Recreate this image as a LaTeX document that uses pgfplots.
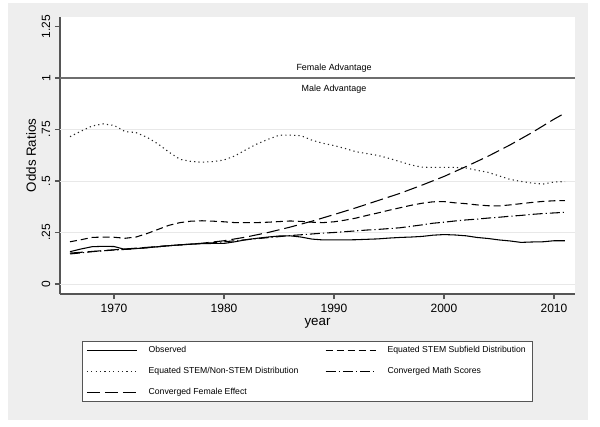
\documentclass[border=0pt]{standalone}
\usepackage{pgfplots}
\pgfplotsset{compat=1.18}
\usepackage{fontspec}
\setmainfont{Liberation Sans}
\definecolor{bggray}{RGB}{238,238,238}
\definecolor{axgray}{RGB}{85,85,85}
\definecolor{gridgray}{RGB}{232,232,232}
\definecolor{refgray}{RGB}{110,110,110}

% Odds ratios by year
\pgfplotstableread{
year val
1966 0.157
1967 0.170
1968 0.181
1969 0.183
1970 0.182
1971 0.168
1972 0.172
1973 0.176
1974 0.181
1975 0.186
1976 0.190
1977 0.193
1978 0.196
1979 0.197
1980 0.197
1981 0.205
1982 0.215
1983 0.222
1984 0.228
1985 0.233
1986 0.234
1987 0.228
1988 0.218
1989 0.214
1990 0.214
1991 0.214
1992 0.215
1993 0.217
1994 0.219
1995 0.223
1996 0.226
1997 0.228
1998 0.231
1999 0.237
2000 0.240
2001 0.238
2002 0.234
2003 0.226
2004 0.221
2005 0.214
2006 0.209
2007 0.202
2008 0.204
2009 0.205
2010 0.210
2011 0.210
}\observed

\pgfplotstableread{
year val
1966 0.205
1967 0.215
1968 0.226
1969 0.228
1970 0.227
1971 0.222
1972 0.228
1973 0.245
1974 0.265
1975 0.285
1976 0.298
1977 0.305
1978 0.307
1979 0.305
1980 0.302
1981 0.298
1982 0.298
1983 0.298
1984 0.300
1985 0.303
1986 0.306
1987 0.304
1988 0.300
1989 0.298
1990 0.302
1991 0.310
1992 0.320
1993 0.333
1994 0.345
1995 0.358
1996 0.370
1997 0.382
1998 0.392
1999 0.399
2000 0.400
2001 0.394
2002 0.390
2003 0.384
2004 0.380
2005 0.379
2006 0.384
2007 0.390
2008 0.396
2009 0.401
2010 0.404
2011 0.405
}\subfield

\pgfplotstableread{
year val
1966 0.715
1967 0.742
1968 0.767
1969 0.777
1970 0.770
1971 0.740
1972 0.735
1973 0.712
1974 0.680
1975 0.640
1976 0.605
1977 0.595
1978 0.591
1979 0.594
1980 0.602
1981 0.622
1982 0.652
1983 0.680
1984 0.702
1985 0.722
1986 0.723
1987 0.720
1988 0.698
1989 0.683
1990 0.672
1991 0.658
1992 0.642
1993 0.633
1994 0.624
1995 0.610
1996 0.594
1997 0.578
1998 0.567
1999 0.566
2000 0.566
2001 0.566
2002 0.563
2003 0.552
2004 0.542
2005 0.525
2006 0.508
2007 0.498
2008 0.490
2009 0.485
2010 0.495
2011 0.497
}\stemnon

\pgfplotstableread{
year val
1966 0.146
1967 0.151
1968 0.157
1969 0.161
1970 0.165
1971 0.168
1972 0.172
1973 0.176
1974 0.181
1975 0.186
1976 0.190
1977 0.194
1978 0.197
1979 0.200
1980 0.205
1981 0.210
1982 0.215
1983 0.220
1984 0.225
1985 0.230
1986 0.235
1987 0.239
1988 0.243
1989 0.247
1990 0.250
1991 0.254
1992 0.258
1993 0.262
1994 0.265
1995 0.269
1996 0.273
1997 0.280
1998 0.287
1999 0.295
2000 0.300
2001 0.306
2002 0.311
2003 0.315
2004 0.320
2005 0.324
2006 0.329
2007 0.333
2008 0.338
2009 0.342
2010 0.345
2011 0.348
}\math

\pgfplotstableread{
year val
1966 0.150
1968 0.158
1970 0.166
1972 0.174
1974 0.182
1976 0.190
1978 0.198
1980 0.210
1982 0.228
1984 0.250
1986 0.276
1988 0.305
1990 0.337
1992 0.370
1994 0.405
1996 0.440
1998 0.480
2000 0.522
2002 0.570
2004 0.620
2006 0.675
2008 0.735
2010 0.800
2011 0.830
}\female

\begin{document}
\begin{tikzpicture}
\useasboundingbox (0,0) rectangle (450pt,319.5pt);
\fill[white] (0,0) rectangle (450pt,319.5pt);
\fill[bggray] (6pt,4.5pt) rectangle (441pt,317.25pt);
\begin{axis}[
    at={(45pt,99pt)}, anchor=south west,
    scale only axis,
    width=386.25pt, height=207.75pt,
    xmin=1965.09, xmax=2011.91,
    ymin=-0.0485, ymax=1.296,
    axis background/.style={fill=white},
    axis x line*=bottom, axis y line*=left,
    axis line style={axgray, line width=0.8pt, -},
    tick align=outside,
    major tick length=3.75pt,
    tick style={axgray, line width=0.8pt},
    xtick={1970,1980,1990,2000,2010},
    xticklabels={1970,1980,1990,2000,2010},
    ytick={0,0.25,0.5,0.75,1,1.25},
    yticklabels={0,.25,.5,.75,1,1.25},
    yticklabel style={rotate=90, anchor=south},
    ticklabel style={font=\fontsize{9}{10}\selectfont},
    /pgf/number format/assume math mode=true,
    xlabel={year},
    ylabel={Odds Ratios},
    label style={font=\fontsize{10}{11}\selectfont},
    xlabel style={yshift=2pt},
    ylabel shift=-2.5pt,
    legend columns=2,
    legend cell align=left,
    legend image code/.code={\draw[#1] (0pt,0pt) -- (38pt,0pt);},
    legend style={
        at={(axis description cs:0.0427,-0.168)}, anchor=north west,
        draw=axgray, fill=white,
        font=\fontsize{6.5}{7.5}\selectfont,
        row sep=5.5pt,
        /tikz/every odd column/.append style={column sep=6pt},
        /tikz/every even column/.append style={column sep=18pt},
    },
]
% grid and reference line
\foreach \v in {0,0.25,0.5,0.75} {
  \edef\temp{\noexpand\draw[gridgray, line width=0.6pt] (axis cs:1965.09,\v) -- (axis cs:2011.91,\v);}
  \temp
}
\draw[refgray, line width=1.1pt] (axis cs:1965.09,1) -- (axis cs:2011.91,1);
\node[font=\fontsize{6.7}{7.5}\selectfont] at (axis cs:1990,1.047) {Female Advantage};
\node[font=\fontsize{6.7}{7.5}\selectfont] at (axis cs:1990,0.945) {Male Advantage};

\addplot[black, line width=0.8pt] table[x=year, y=val] {\observed};
\addplot[black, line width=0.8pt, dash pattern=on 5.25pt off 3pt] table[x=year, y=val] {\subfield};
\addplot[black!85, line width=0.8pt, dash pattern=on 0.9pt off 2.4pt] table[x=year, y=val] {\stemnon};
\addplot[black, line width=0.8pt, dash pattern=on 7.5pt off 2.25pt on 0.9pt off 2.25pt] table[x=year, y=val] {\math};
\addplot[black, line width=0.8pt, dash pattern=on 9.75pt off 3.75pt] table[x=year, y=val] {\female};
\legend{Observed, Equated STEM Subfield Distribution, Equated STEM/Non-STEM Distribution, Converged Math Scores, Converged Female Effect}
\end{axis}
\end{tikzpicture}
\end{document}
